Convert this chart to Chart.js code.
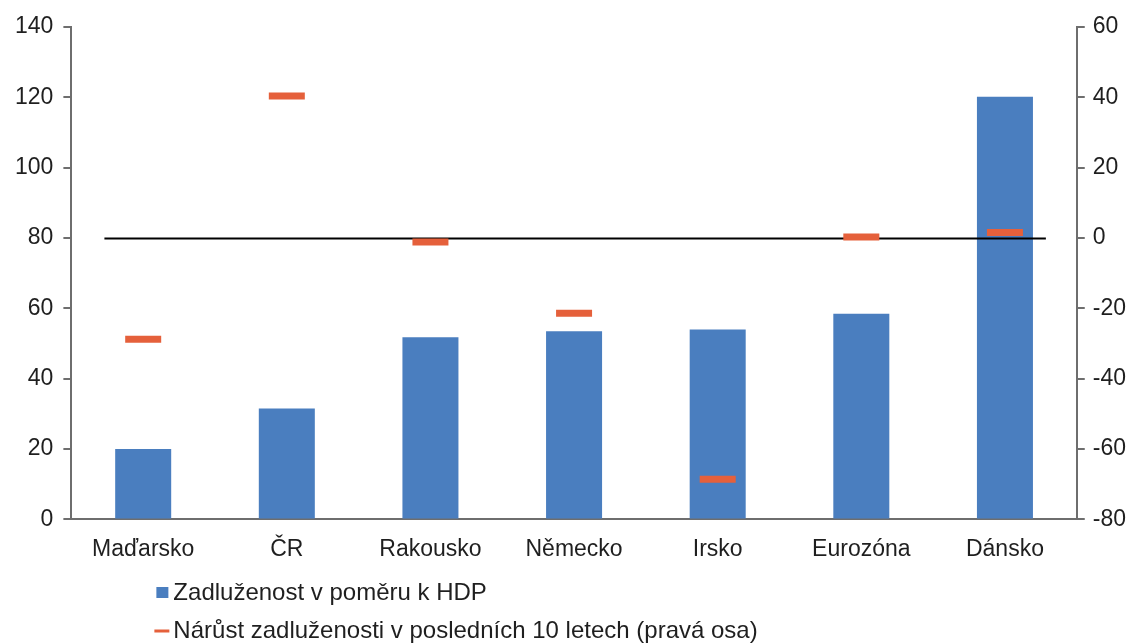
<!DOCTYPE html>
<html>
<head>
<meta charset="utf-8">
<script src="https://cdn.jsdelivr.net/npm/chart.js@4/dist/chart.umd.min.js"></script>
<style>
  html, body { margin: 0; padding: 0; background: #fff; }
  #wrap { width: 1140px; height: 644px; }
</style>
</head>
<body>
<div id="wrap"><canvas id="c" width="1140" height="644"></canvas></div>
<script>
const categories = ["Maďarsko", "ČR", "Rakousko", "Německo", "Irsko", "Eurozóna", "Dánsko"];
const debtToGdp = [20, 31.5, 51.8, 53.5, 54, 58.5, 120.2];
const debtGrowth10y = [-28.8, 40.4, -1.1, -21.4, -68.6, 0.3, 1.6];
const seriesNames = ["Zadluženost v poměru k HDP", "Nárůst zadluženosti v posledních 10 letech (pravá osa)"];
const leftTicks = [0, 20, 40, 60, 80, 100, 120, 140];
const rightTicks = [-80, -60, -40, -20, 0, 20, 40, 60];

const BLUE = "#4A7EBF";
const RED = "#E5603B";
const TEXT = "#1f1f1f";
const FONT = "'Liberation Sans', Arial, sans-serif";
const FS = 23;

const zeroLinePlugin = {
  id: "zeroLine",
  afterDatasetDraw(chart, args) {
    if (args.index !== 0) return;
    const x = chart.scales.x, y1 = chart.scales.y1;
    const step = x.getPixelForValue(1) - x.getPixelForValue(0);
    const y = Math.round(y1.getPixelForValue(0)) + 0.5;
    const ctx = chart.ctx;
    ctx.save();
    ctx.strokeStyle = "#000";
    ctx.lineWidth = 2;
    ctx.beginPath();
    ctx.moveTo(x.getPixelForValue(0) - step * 0.27, y);
    ctx.lineTo(x.getPixelForValue(categories.length - 1) + step * 0.285, y);
    ctx.stroke();
    ctx.restore();
  }
};

const legendPlugin = {
  id: "customLegend",
  afterDraw(chart) {
    const ctx = chart.ctx;
    const left = chart.chartArea.left + 85;
    const rows = [593, 631];
    ctx.save();
    ctx.font = "24px " + FONT;
    ctx.textBaseline = "middle";
    ctx.textAlign = "left";
    chart.data.datasets.forEach((ds, i) => {
      const cy = rows[i];
      if (i === 0) {
        ctx.fillStyle = ds.backgroundColor;
        ctx.fillRect(left, cy - 6, 12, 11);
      } else {
        ctx.strokeStyle = ds.borderColor;
        ctx.lineWidth = 3;
        ctx.beginPath();
        ctx.moveTo(left - 2, cy);
        ctx.lineTo(left + 13, cy);
        ctx.stroke();
      }
      ctx.fillStyle = TEXT;
      ctx.fillText(ds.label, left + 17, cy);
    });
    ctx.restore();
  }
};

new Chart(document.getElementById("c"), {
  data: {
    labels: categories,
    datasets: [
      {
        type: "bar",
        label: seriesNames[0],
        data: debtToGdp,
        backgroundColor: BLUE,
        borderWidth: 0,
        barPercentage: 0.39,
        categoryPercentage: 1,
        yAxisID: "y",
        order: 2
      },
      {
        type: "line",
        label: seriesNames[1],
        data: debtGrowth10y,
        showLine: false,
        pointStyle: "line",
        pointRadius: 18,
        pointHoverRadius: 18,
        pointBorderWidth: 7,
        pointHoverBorderWidth: 7,
        borderColor: RED,
        backgroundColor: RED,
        yAxisID: "y1",
        order: 1
      }
    ]
  },
  options: {
    responsive: false,
    animation: false,
    devicePixelRatio: 1,
    layout: { padding: { left: 5, right: 6, top: 27, bottom: 65 } },
    plugins: {
      legend: { display: false },
      tooltip: { enabled: false }
    },
    scales: {
      x: {
        grid: { display: false, drawTicks: false },
        border: { display: true, color: "#6e6e6e", width: 2 },
        ticks: { color: TEXT, font: { family: FONT, size: FS }, padding: 16, maxRotation: 0 }
      },
      y: {
        position: "left",
        min: 0, max: 140,
        afterBuildTicks(axis) { axis.ticks = leftTicks.map(v => ({ value: v })); },
        grid: { drawOnChartArea: false, drawTicks: true, tickLength: 8, color: "#6e6e6e", lineWidth: 2 },
        border: { display: true, color: "#6e6e6e", width: 2 },
        ticks: { color: TEXT, font: { family: FONT, size: FS }, padding: 10 }
      },
      y1: {
        position: "right",
        min: -80, max: 60,
        afterBuildTicks(axis) { axis.ticks = rightTicks.map(v => ({ value: v })); },
        grid: { drawOnChartArea: false, drawTicks: true, tickLength: 8, color: "#6e6e6e", lineWidth: 2 },
        border: { display: true, color: "#6e6e6e", width: 2 },
        ticks: { color: TEXT, font: { family: FONT, size: FS }, padding: 8 }
      }
    }
  },
  plugins: [zeroLinePlugin, legendPlugin]
});
</script>
</body>
</html>
